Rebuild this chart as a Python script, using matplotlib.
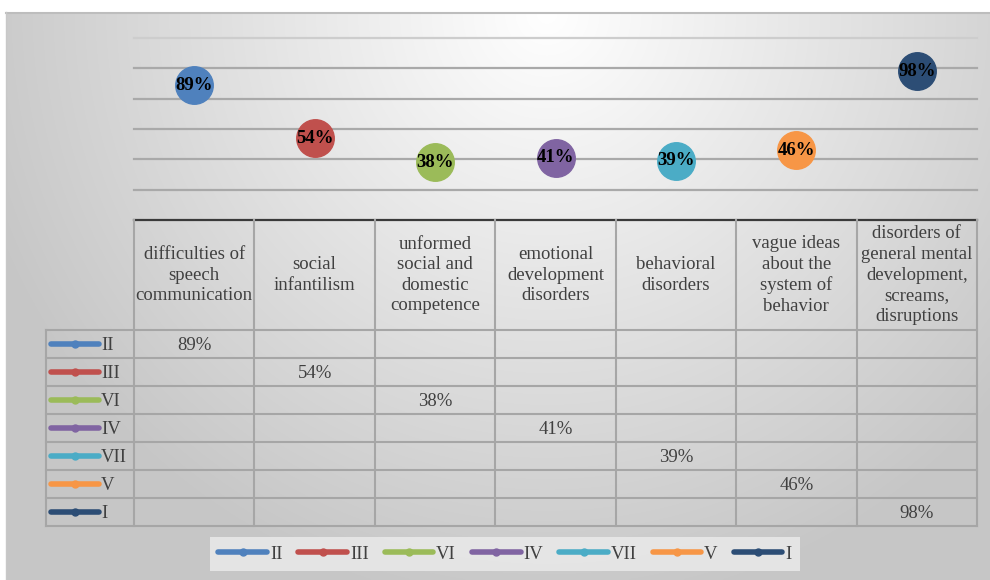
import matplotlib.pyplot as plt
import numpy as np
from matplotlib.lines import Line2D

plt.rcParams['font.family'] = ['Liberation Serif', 'DejaVu Serif']

# data
categories = [
    "difficulties of\nspeech\ncommunication",
    "social\ninfantilism",
    "unformed\nsocial and\ndomestic\ncompetence",
    "emotional\ndevelopment\ndisorders",
    "behavioral\ndisorders",
    "vague ideas\nabout the\nsystem of\nbehavior",
    "disorders of\ngeneral mental\ndevelopment,\nscreams,\ndisruptions",
]
series_names = ["II", "III", "VI", "IV", "VII", "V", "I"]
series_values = [89, 54, 38, 41, 39, 46, 98]   # each series has one value, in column i
series_colors = ["#4f81bd", "#c0504d", "#9bbb59", "#8064a2", "#4bacc6", "#f79646", "#2c4d75"]

W, H = 990, 580
fig = plt.figure(figsize=(W / 100, H / 100), dpi=100)
fig.patch.set_facecolor("white")

# background with radial gradient (chart area)
bg = fig.add_axes([6 / W, 0, (W - 6) / W, (H - 12) / H])
gx, gy = np.meshgrid(np.linspace(0, 1, 400), np.linspace(0, 1, 240))
r = np.sqrt(((gx - 0.55) / 0.6) ** 2 + (gy / 1.05) ** 2)
shade = 1.0 - 0.22 * np.clip(r, 0, 1)
bg.imshow(np.dstack([shade] * 3), aspect="auto", extent=[0, 1, 1, 0], interpolation="bilinear")
bg.set_xlim(0, 1)
bg.set_ylim(1, 0)
bg.axis("off")
fig.add_artist(Line2D([6 / W, 1], [1 - 12.5 / H] * 2, color="#bdbdbd", lw=1.5))
fig.add_artist(Line2D([6 / W] * 2, [0, 1 - 12 / H], color="#c8c8c8", lw=1))

# plot area
x0, x1 = 134, 977
ytop, ybot = 38, 220
ax = fig.add_axes([x0 / W, 1 - ybot / H, (x1 - x0) / W, (ybot - ytop) / H])
ax.patch.set_alpha(0)
ax.set_xlim(-0.5, len(categories) - 0.5)
ax.set_ylim(0, 120)
for g in range(20, 121, 20):
    ax.axhline(g, color="#cdcdcd" if g == 120 else "#a9a9a9", lw=1.6, zorder=1, clip_on=False)
for s in ["top", "right", "left"]:
    ax.spines[s].set_visible(False)
ax.spines["bottom"].set_color("#3a3a3a")
ax.spines["bottom"].set_linewidth(1.6)
ax.set_xticks([])
ax.set_yticks([])

for i, (name, val, col) in enumerate(zip(series_names, series_values, series_colors)):
    ax.plot([i], [val], marker="o", markersize=27, color=col, lw=4, zorder=3, clip_on=False)
    ax.text(i, val, f"{val}%", ha="center", va="center", fontsize=13.5,
            fontweight="bold", color="black", zorder=4)

# data table (pixel coordinates)
tab = fig.add_axes([0, 0, 1, 1])
tab.set_xlim(0, W)
tab.set_ylim(H, 0)
tab.axis("off")
tab.patch.set_alpha(0)

ncol = len(categories)
cw = (x1 - x0) / ncol
head_top, head_bot = 220, 330
rh = 28
left = 46
nrow = len(series_names)
tbot = head_bot + nrow * rh
grid_c = "#a6a6a6"

for k in range(ncol + 1):
    xx = x0 + k * cw
    tab.plot([xx, xx], [head_top, tbot], color=grid_c, lw=1.5)
tab.plot([left, left], [head_bot, tbot], color=grid_c, lw=1.5)
for j in range(nrow + 1):
    yy = head_bot + j * rh
    tab.plot([left, x1], [yy, yy], color=grid_c, lw=1.5)

for k, cat in enumerate(categories):
    tab.text(x0 + (k + 0.5) * cw, (head_top + head_bot) / 2, cat, ha="center", va="center",
             fontsize=13.5, color="#404040", linespacing=1.28)

for j, (name, val, col) in enumerate(zip(series_names, series_values, series_colors)):
    yc = head_bot + (j + 0.5) * rh
    tab.plot([51, 99], [yc, yc], color=col, lw=4, solid_capstyle="round")
    tab.plot([75], [yc], marker="o", markersize=5, color=col)
    tab.text(101, yc + 1, name, ha="left", va="center", fontsize=13.5, color="#404040")
    tab.text(x0 + (j + 0.5) * cw, yc + 1, f"{val}%", ha="center", va="center",
             fontsize=13.5, color="#404040")

# legend
handles = [Line2D([], [], color=c, lw=4, marker="o", markersize=5, solid_capstyle="round")
           for c in series_colors]
leg = fig.legend(handles, series_names, loc="center", bbox_to_anchor=(505 / W, 1 - 554 / H),
                 ncol=len(series_names), frameon=True, fancybox=False, fontsize=13.5,
                 handlelength=2.6, handletextpad=0.15, columnspacing=0.85,
                 borderpad=0.45, labelcolor="#404040")
leg.get_frame().set_facecolor("#e8e8e8")
leg.get_frame().set_edgecolor("none")
leg.get_frame().set_alpha(0.9)

fig.savefig("out.png", dpi=100)
